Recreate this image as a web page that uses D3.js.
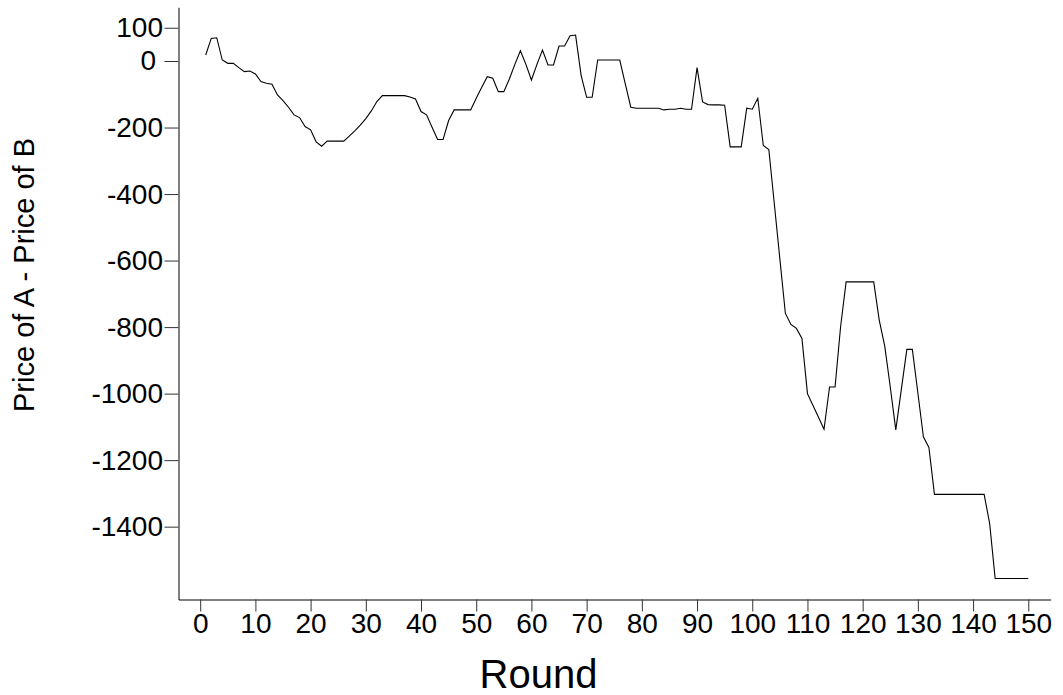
<!DOCTYPE html>
<html><head><meta charset="utf-8">
<script src="https://cdn.jsdelivr.net/npm/d3@7"></script>
<style>body{margin:0;background:#fff} svg{display:block}</style>
</head><body>
<svg id="chart" width="1063" height="695"></svg>
<script>
// Price of A - Price of B for rounds 1..150
const priceDiff = [
  18, 68, 70, 3, -7, -7, -20, -32, -30, -39,
  -62, -67, -70, -102, -119, -139, -162, -170, -197, -207,
  -243, -256, -241, -241, -241, -241, -226, -210, -193, -173,
  -150, -122, -104, -104, -104, -104, -104, -108, -114, -152,
  -162, -199, -236, -236, -179, -147, -147, -147, -147, -112,
  -79, -47, -52, -92, -92, -54, -10, 31, -10, -57,
  -10, 33, -12, -12, 45, 45, 76, 78, -43, -109,
  -109, 3, 3, 3, 3, 3, -69, -139, -142, -142,
  -142, -142, -142, -147, -145, -145, -142, -145, -145, -20,
  -123, -131, -132, -132, -133, -258, -258, -258, -142, -145,
  -112, -254, -266, -430, -595, -759, -792, -804, -834, -1000,
  -1036, -1071, -1107, -980, -980, -799, -664, -664, -664, -664,
  -664, -664, -779, -857, -980, -1109, -988, -867, -867, -998,
  -1130, -1162, -1303, -1303, -1303, -1303, -1303, -1303, -1303, -1303,
  -1303, -1303, -1390, -1556, -1556, -1556, -1556, -1556, -1556, -1556
];
const firstRound = 1;
const xTickValues = [0, 10, 20, 30, 40, 50, 60, 70, 80, 90, 100, 110, 120, 130, 140, 150];
const yTickValues = [100, 0, -200, -400, -600, -800, -1000, -1200, -1400];
const xTitle = "Round";
const yTitle = "Price of A - Price of B";

const data = priceDiff.map((v, i) => ({round: firstRound + i, value: v}));

const svg = d3.select("#chart");
const font = "'Liberation Sans', Arial, sans-serif";

const x = d3.scaleLinear().domain([-3.93, 154.06]).range([178.5, 1050.7]);
const y = d3.scaleLinear().domain([-1619, 161.5]).range([599.5, 7.3]);

const plainFormat = d => String(d); // ASCII hyphen-minus like the original

// X axis
const gx = svg.append("g")
  .attr("transform", "translate(0,599.5)")
  .call(d3.axisBottom(x).tickValues(xTickValues).tickFormat(plainFormat)
        .tickSize(12).tickSizeOuter(0).tickPadding(1.5));
// Y axis
const gy = svg.append("g")
  .attr("transform", "translate(178.5,0)")
  .call(d3.axisLeft(y).tickValues(yTickValues).tickFormat(plainFormat)
        .tickSize(14).tickSizeOuter(0).tickPadding(1.5));

[gx, gy].forEach(g => {
  g.select(".domain").attr("stroke", "#000").attr("stroke-width", 1);
  g.selectAll(".tick line").attr("stroke", "#333").attr("stroke-width", 1);
  g.selectAll(".tick text").attr("fill", "#000")
    .style("font-family", font).style("font-size", "28px");
});
// the "0" label sits a little further left in the original
gy.selectAll(".tick").filter(d => d === 0).select("text").attr("dx", "-7");

// Line
const line = d3.line().x(d => x(d.round)).y(d => y(d.value));
svg.append("path")
  .datum(data)
  .attr("fill", "none")
  .attr("stroke", "#000")
  .attr("stroke-width", 1.1)
  .attr("stroke-linejoin", "miter")
  .attr("d", line);

// Titles
svg.append("text")
  .attr("x", 538.5).attr("y", 688)
  .attr("text-anchor", "middle")
  .style("font-family", font).style("font-size", "40px")
  .text(xTitle);

svg.append("text")
  .attr("transform", "translate(33.5,275) rotate(-90)")
  .attr("text-anchor", "middle")
  .style("font-family", font).style("font-size", "29px")
  .text(yTitle);
</script>
</body></html>
